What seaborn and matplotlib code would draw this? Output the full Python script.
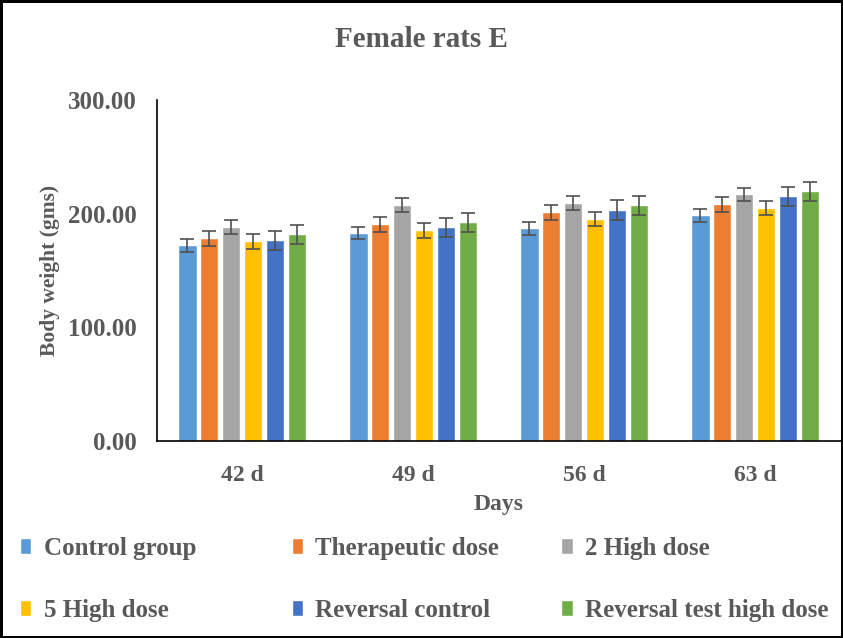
import matplotlib
matplotlib.use("Agg")
import matplotlib.pyplot as plt
import seaborn as sns
import pandas as pd

days = ["42 d", "49 d", "56 d", "63 d"]
groups = ["Control group", "Therapeutic dose", "2 High dose",
          "5 High dose", "Reversal control", "Reversal test high dose"]

# mean body weight per group, one list per day
w42 = [172.0, 178.2, 188.0, 175.6, 176.5, 181.8]
w49 = [182.6, 190.6, 207.4, 185.3, 188.0, 192.4]
w56 = [187.0, 201.2, 209.1, 195.0, 203.0, 207.4]
w63 = [198.5, 208.2, 217.0, 204.7, 215.3, 219.7]

# error (+/-) per group, one list per day
e42 = [6.0, 6.7, 6.3, 6.6, 8.4, 8.4]
e49 = [5.3, 6.7, 6.2, 6.7, 8.4, 8.4]
e56 = [5.7, 6.6, 6.2, 6.2, 8.8, 8.5]
e63 = [5.7, 6.6, 5.8, 6.2, 8.4, 8.4]

colors = ["#5B9BD5", "#ED7D31", "#A5A5A5", "#FFC000", "#4472C4", "#70AD47"]
text_col = "#595959"

rows = []
for day, w, e in zip(days, [w42, w49, w56, w63], [e42, e49, e56, e63]):
    for g, v, err in zip(groups, w, e):
        rows.append({"Days": day, "Group": g, "Weight": v, "Err": err})
df = pd.DataFrame(rows)

sns.set_style("white")
plt.rcParams["font.family"] = ["Liberation Serif", "DejaVu Serif"]
plt.rcParams["font.weight"] = "bold"

fig = plt.figure(figsize=(8.43, 6.38), dpi=100, edgecolor="black", linewidth=2.5)
ax = fig.add_axes([0.1857, 0.3088, 0.8114, 0.5345])

sns.barplot(data=df, x="Days", y="Weight", hue="Group", hue_order=groups,
            palette=colors, errorbar=None, width=0.77, gap=0.15,
            saturation=1, ax=ax)

# error bars placed on the centres of the drawn bars
bars = [p for p in ax.patches if p.get_height() > 0][:len(df)]
for i, g in enumerate(groups):
    sub = df[df["Group"] == g]
    gbars = bars[i * len(days):(i + 1) * len(days)]
    xs = [b.get_x() + b.get_width() / 2 for b in gbars]
    ax.errorbar(xs, sub["Weight"], yerr=sub["Err"], fmt="none",
                ecolor="#505050", elinewidth=1.2, capsize=5, capthick=1.2)

ax.set_ylim(0, 300)
ax.set_xlim(-0.5, 3.5)
ax.set_yticks([0, 100, 200, 300])
ax.set_yticklabels([f"{t:.2f}" for t in [0, 100, 200, 300]])
ax.tick_params(axis="both", length=0, colors=text_col)
ax.tick_params(axis="x", labelsize=17, pad=17)
ax.tick_params(axis="y", labelsize=18, pad=14)
for lab in ax.get_xticklabels() + ax.get_yticklabels():
    lab.set_fontweight("bold")

for s in ["top", "right"]:
    ax.spines[s].set_visible(False)
ax.spines["left"].set_color("black")
ax.spines["bottom"].set_color("black")
ax.spines["left"].set_linewidth(1.2)
ax.spines["bottom"].set_linewidth(1.2)

ax.set_xlabel("Days", fontsize=17, fontweight="bold", color=text_col, labelpad=6)
ax.set_ylabel("Body weight (gms)", fontsize=15.5, fontweight="bold", color=text_col, labelpad=6)
fig.suptitle("Female rats E", fontsize=21, fontweight="bold", color=text_col, y=0.96)

ax.legend_.remove()
handles, labels = ax.get_legend_handles_labels()
# one legend per column, fixed column positions like the original
col_x = [0.024, 0.346, 0.666]
for c in range(3):
    idx = [c, c + 3]
    leg = fig.legend([handles[i] for i in idx], [labels[i] for i in idx],
                     loc="center left", bbox_to_anchor=(col_x[c], 0.092),
                     ncol=1, frameon=False, handlelength=0.45, handleheight=0.6,
                     handletextpad=0.5, labelspacing=1.55, borderaxespad=0,
                     borderpad=0, labelcolor=text_col,
                     prop={"weight": "bold", "size": 18})

fig.savefig("out.png", dpi=100, edgecolor=fig.get_edgecolor())
